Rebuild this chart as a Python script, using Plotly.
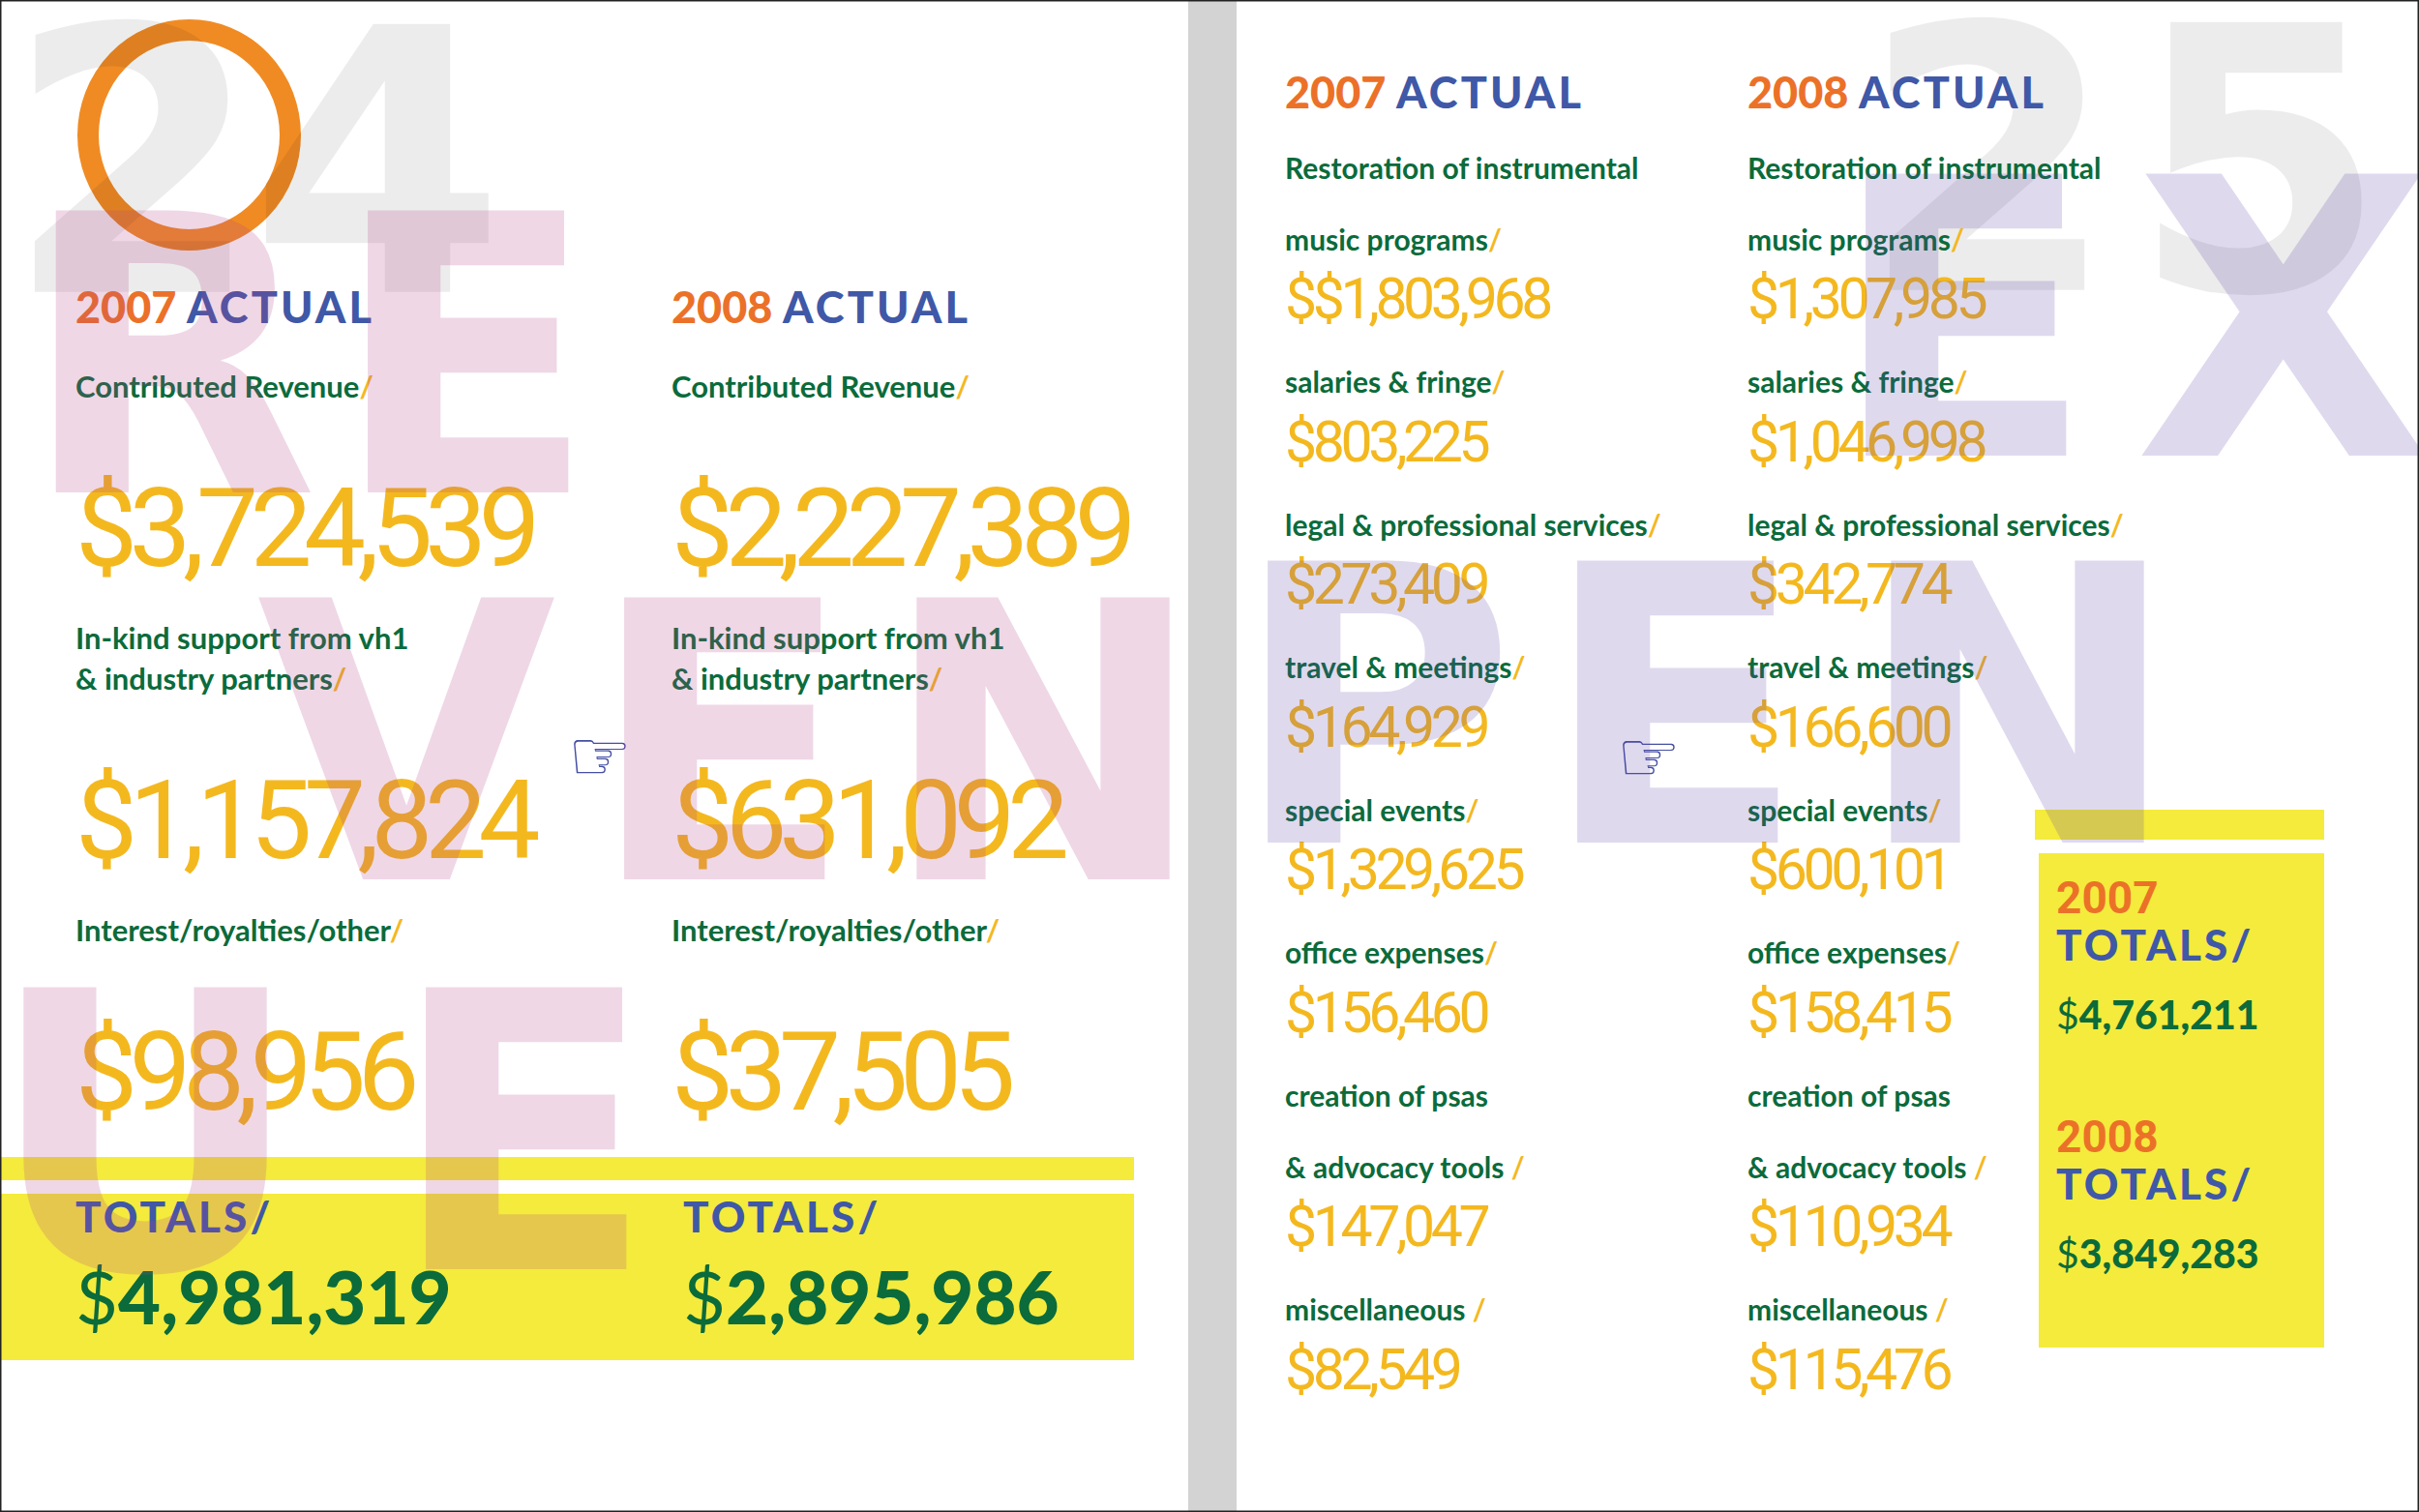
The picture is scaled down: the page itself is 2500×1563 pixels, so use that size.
import plotly.graph_objects as go

# ---------------- data ----------------
years = ["2007", "2008"]

revenue_labels = [["Contributed Revenue"],
                  ["In-kind support from vh1", "& industry partners"],
                  ["Interest/royalties/other"]]
revenue_2007 = [3724539, 1157824, 98956]
revenue_2008 = [2227389, 631092, 37505]
revenue_totals = [4981319, 2895986]

expense_labels = [["Restoration of instrumental", "music programs"],
                  ["salaries & fringe"],
                  ["legal & professional services"],
                  ["travel & meetings"],
                  ["special events"],
                  ["office expenses"],
                  ["creation of psas", "& advocacy tools "],
                  ["miscellaneous "]]
expense_2007 = [1803968, 803225, 273409, 164929, 1329625, 156460, 147047, 82549]
expense_2008 = [1307985, 1046998, 342774, 166600, 600101, 158415, 110934, 115476]
expense_totals = [4761211, 3849283]

revenue_letters = ["R", "E", "V", "E", "N", "U", "E"]
expense_letters = ["E", "X", "P", "E", "N"]
page_left = ["2", "4"]
page_right = ["2", "5"]

# ---------------- look ----------------
W, H = 2500, 1563
LEFT_END, RIGHT_START = 1230, 1278

ORANGE = "#ec7128"
BLUE = "#3f58a7"
GREEN = "#0b6b3b"
GOLD = "#f4b81f"
YELLOW = "#f4eb3d"
PINK = "rgba(178,68,135,0.21)"
LAVENDER = "rgba(95,65,170,0.2)"
GREY = "rgba(0,0,0,0.075)"

NARROW = "Roboto, sans-serif"
SANS = "Lato, 'Open Sans', sans-serif"
HEAVY = "'DejaVu Sans', sans-serif"

slash = '<span style="color:%s">/</span>' % GOLD


def money(v):
    return "${:,}".format(v)


def squeeze(s):
    # no condensed face installed, so pull the digits together instead
    return '<span style="letter-spacing:-0.075em">%s</span>' % s


def wide(s):
    return '<span style="letter-spacing:0.07em">%s</span>' % s


fig = go.Figure()


def add_text(xs, ys, texts, size, color, family, weight="normal", axis="x",
             position="middle right", clip=False):
    fig.add_trace(go.Scatter(
        x=xs, y=[y + 0.11 * size for y in ys], text=texts, mode="text",
        textposition=position, cliponaxis=clip, xaxis=axis, yaxis="y",
        textfont=dict(size=size, color=color, family=family, weight=weight),
        hoverinfo="skip", showlegend=False))


def stacked_rows(labels, first_y, line_step, label_gap, row_gap):
    label_y, value_y = [], []
    y = first_y
    for lines in labels:
        ys = [y + k * line_step for k in range(len(lines))]
        label_y.append(ys)
        v = ys[-1] + label_gap
        value_y.append(v)
        y = v + row_gap
    return label_y, value_y


def label_lines(labels):
    out = []
    for lines in labels:
        for k, line in enumerate(lines):
            out.append(line + (slash if k == len(lines) - 1 else ""))
    return out


# page numbers in the background
add_text([138, 390], [165, 165], page_left, 380, GREY, HEAVY, "bold",
         position="middle center", clip=True)
add_text([2055, 2335], [163, 163], page_right, 380, GREY, HEAVY, "bold",
         axis="x2", position="middle center", clip=True)

# ---- revenue page ----
rev_cols = [78, 694]
header = ['<span style="color:%s">%s</span> %s' % (ORANGE, yr, wide("ACTUAL")) for yr in years]
add_text(rev_cols, [318, 318], header, 45, BLUE, SANS, 900)

lab_y, val_y = stacked_rows(revenue_labels, 400, 42, 144, 116)
flat_y = [y for ys in lab_y for y in ys]
for col, vals in zip(rev_cols, [revenue_2007, revenue_2008]):
    add_text([col] * len(flat_y), flat_y, label_lines(revenue_labels), 31, GREEN, SANS, 700)
    add_text([col] * len(vals), val_y, [squeeze(money(v)) for v in vals],
             114, GOLD, NARROW)

tot_cols = [78, 706]
add_text(tot_cols, [1258, 1258], [wide("TOTALS/")] * 2, 44, BLUE, SANS, 900)
add_text(tot_cols, [1342, 1342],
         ['<span style="font-weight:400">$</span>' + money(v)[1:] for v in revenue_totals],
         76, GREEN, SANS, 900)

# ---- expense page ----
exp_cols = [1328, 1806]
add_text(exp_cols, [96, 96], header, 45, BLUE, SANS, 900, axis="x2")

lab_y, val_y = stacked_rows(expense_labels, 174, 74, 60, 87.5)
flat_y = [y for ys in lab_y for y in ys]
exp_text_2007 = [("$" if i == 0 else "") + money(v) for i, v in enumerate(expense_2007)]
exp_text_2008 = [money(v) for v in expense_2008]
for col, vals in zip(exp_cols, [exp_text_2007, exp_text_2008]):
    add_text([col] * len(flat_y), flat_y, label_lines(expense_labels), 30, GREEN, SANS, 700, axis="x2")
    add_text([col] * len(vals), val_y, [squeeze(s) for s in vals], 59, GOLD, NARROW, axis="x2")

box_x = 2125
for i, yr in enumerate(years):
    y0 = 927 + 247 * i
    add_text([box_x], [y0], [yr], 46, ORANGE, NARROW, 700, axis="x2")
    add_text([box_x], [y0 + 50], [wide("TOTALS/")], 44, BLUE, SANS, 900, axis="x2")
    add_text([box_x], [y0 + 122],
             ['<span style="font-weight:400">$</span>' + money(expense_totals[i])[1:]],
             41, GREEN, SANS, 900, axis="x2")

# pointing hands
add_text([620], [780], ["\u261e"], 74, "#4650a5", "'DejaVu Sans'", position="middle center")
add_text([1704], [781], ["\u261e"], 74, "#4650a5", "'DejaVu Sans'", axis="x2", position="middle center")

# big see-through lettering on top
add_text([175, 480, 420, 745, 1078, 150, 540],
         [365, 365, 765, 765, 765, 1168, 1168],
         revenue_letters, 400, PINK, HEAVY, "bold", position="middle center", clip=True)
add_text([2028, 2360, 1420, 1730, 2085],
         [327, 327, 727, 727, 727],
         expense_letters, 400, LAVENDER, HEAVY, "bold", axis="x2",
         position="middle center", clip=True)

shapes = [
    # gutter
    dict(type="rect", xref="paper", yref="paper", x0=1228 / W, x1=RIGHT_START / W, y0=0, y1=1,
         fillcolor="#d3d3d3", line_width=0, layer="below"),
    # revenue totals band
    dict(type="rect", xref="x", yref="y", x0=0, x1=1172, y0=1196, y1=1220,
         fillcolor=YELLOW, line_width=0, layer="below"),
    dict(type="rect", xref="x", yref="y", x0=0, x1=1172, y0=1234, y1=1406,
         fillcolor=YELLOW, line_width=0, layer="below"),
    # expense totals box
    dict(type="rect", xref="x2", yref="y", x0=2103, x1=2402, y0=837, y1=868,
         fillcolor=YELLOW, line_width=0, layer="below"),
    dict(type="rect", xref="x2", yref="y", x0=2107, x1=2402, y0=882, y1=1393,
         fillcolor=YELLOW, line_width=0, layer="below"),
    # orange ring
    dict(type="circle", xref="x", yref="y", x0=91, x1=300, y0=31, y1=248,
         line=dict(color="#f08b24", width=22), fillcolor="rgba(0,0,0,0)", layer="below"),
    # page border
    dict(type="rect", xref="paper", yref="paper", x0=0, x1=1, y0=0, y1=1,
         line=dict(color="#222222", width=3), fillcolor="rgba(0,0,0,0)", layer="above"),
]

fig.update_layout(
    width=W, height=H, margin=dict(l=0, r=0, t=0, b=0),
    paper_bgcolor="white", plot_bgcolor="rgba(0,0,0,0)",
    xaxis=dict(domain=[0, LEFT_END / W], range=[0, LEFT_END], visible=False, fixedrange=True),
    xaxis2=dict(domain=[RIGHT_START / W, 1], range=[RIGHT_START, W], visible=False,
                anchor="y", fixedrange=True),
    yaxis=dict(domain=[0, 1], range=[H, 0], visible=False, fixedrange=True),
    shapes=shapes,
)

fig.write_html("out.html", config={"displayModeBar": False},
               post_script="document.body.style.margin='0';document.body.style.overflow='hidden';")
